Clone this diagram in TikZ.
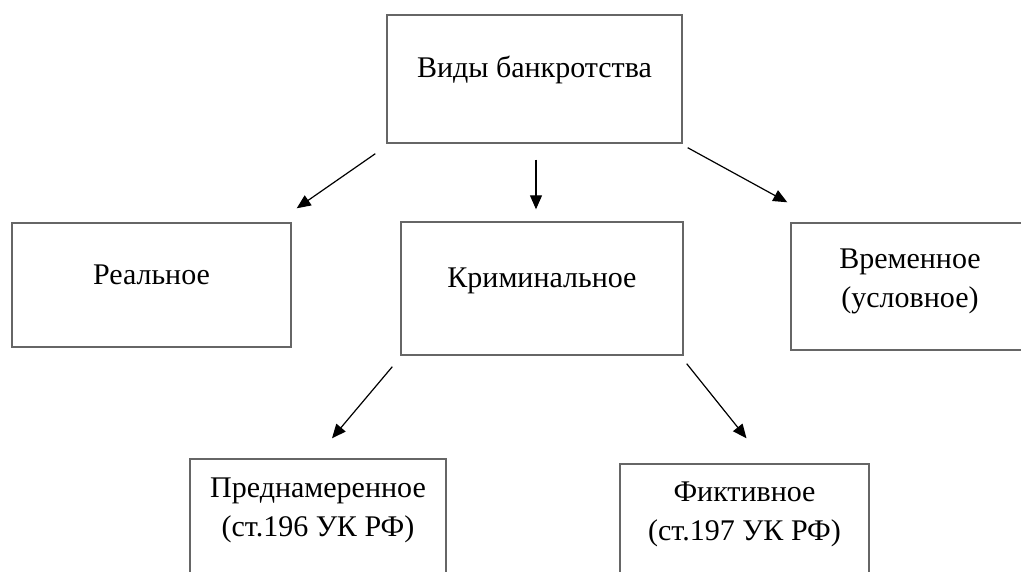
\documentclass[tikz,border=0pt]{standalone}
\usepackage{fontspec}
\setmainfont{Liberation Serif}
\usepackage{tikz}
\usetikzlibrary{arrows.meta}
\usetikzlibrary{calc}

\newcommand{\lifted}[2]{\raisebox{#1}[\height][\depth]{\begin{tabular}{@{}c@{}}#2\end{tabular}}}

\begin{document}
\begin{tikzpicture}[x=1pt,y=-1pt,
    box/.style={draw=black!60,line width=1.4pt,rectangle,inner sep=0pt,
      font=\fontsize{30}{39}\selectfont},
    arr/.style={-{Triangle[length=14pt,width=12pt]},line width=1.2pt}]

      \clip (0,0) rectangle (1021,571);

      \begin{scope}
        \node[box,minimum width=295,minimum height=128] (kind) at (534.5,79) {\lifted{9pt}{Виды банкротства}};
        \node[box,minimum width=279,minimum height=124] (real) at (151.5,285) {\lifted{8pt}{Реальное}};
        \node[box,minimum width=282,minimum height=133] (crim) at (542,288.5) {\lifted{9pt}{Криминальное}};
        \node[box,minimum width=238,minimum height=127] (temp) at (910,286.5) {\lifted{6pt}{Временное\\(условное)}};
        \node[box,minimum width=256,minimum height=124] (pre) at (318,521) {\lifted{12pt}{Преднамеренное\\(ст.196 УК РФ)}};
        \node[box,minimum width=249,minimum height=124] (fict) at (744.5,526) {\lifted{13pt}{Фиктивное\\(ст.197 УК РФ)}};
      \end{scope}

      \begin{scope}
        \draw[arr] ($(kind.south west)+(-11,10)$) -- ($(real.north east)+(5,-14)$);
        \draw[arr] ($(kind.south)+(1.5,16)$) -- ($(crim.north)+(-6,-12)$);
        \draw[arr] ($(kind.south east)+(5,4)$) -- ($(temp.north west)+(-3,-20)$);
        \draw[arr] ($(crim.south west)+(-8,11)$) -- ($(pre.north)+(14,-20)$);
        \draw[arr] ($(crim.south east)+(3,8)$) -- ($(fict.north)+(2,-25)$);
      \end{scope}
    \end{tikzpicture}
\end{document}
